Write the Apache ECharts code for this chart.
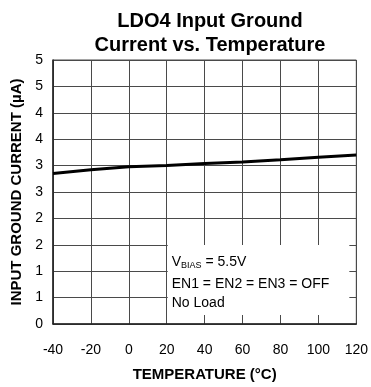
<!DOCTYPE html>
<html><head><meta charset="utf-8">
<script src="https://cdn.jsdelivr.net/npm/echarts@6/dist/echarts.min.js"></script>
<style>html,body{margin:0;padding:0;background:#fff}#c{width:371px;height:387px}</style>
</head><body><div id="c"></div>
<script>
var temps = [-40, -20, 0, 20, 40, 60, 80, 100, 120];
var current = [2.85, 2.92, 2.98, 3.0, 3.04, 3.07, 3.11, 3.16, 3.2];
var yTickLabels = ['0','1','1','2','2','3','3','4','4','5','5'];
var xTickLabels = ['-40','-20','0','20','40','60','80','100','120'];
var titleLines = ['LDO4 Input Ground', 'Current vs. Temperature'];
var noteLines = ['EN1 = EN2 = EN3 = OFF', 'No Load'];

var F = 'Arial, "Liberation Sans", Helvetica, sans-serif';
var chart = echarts.init(document.getElementById('c'), null, {renderer:'canvas'});
var gridCol = '#4a4a4a';
var axisCol = '#222';
chart.setOption({
  animation:false,
  backgroundColor:'#fff',
  title:{text:titleLines.join('\n'), left:205, top:4, textAlign:'center',
    textStyle:{fontFamily:F, fontSize:20, fontWeight:'bold', color:'#000', lineHeight:24}},
  grid:{left:53, right:14, top:60, bottom:60.5, show:true, borderColor:gridCol, borderWidth:1},
  xAxis:{type:'value', min:-40, max:120, interval:20,
    name:'TEMPERATURE (°C)', nameLocation:'middle', nameGap:43,
    nameTextStyle:{fontFamily:F, fontSize:15, fontWeight:'bold', color:'#000'},
    axisLine:{show:true, onZero:false, lineStyle:{color:axisCol, width:1.5}}, axisTick:{show:false},
    axisLabel:{fontFamily:F, fontSize:14, color:'#000', margin:19,
      formatter:function(v){var i=Math.round((v+40)/20);return xTickLabels[i];}},
    splitLine:{show:true, lineStyle:{color:gridCol, width:1}}},
  yAxis:{type:'value', min:0, max:5, interval:0.5,
    name:'INPUT GROUND CURRENT (µA)', nameLocation:'middle', nameGap:28,
    nameTextStyle:{fontFamily:F, fontSize:15, fontWeight:'bold', color:'#000'},
    axisLine:{show:true, onZero:false, lineStyle:{color:axisCol, width:1.5}}, axisTick:{show:false},
    axisLabel:{fontFamily:F, fontSize:14, color:'#000', margin:10, padding:[4,0,0,0],
      formatter:function(v){var i=Math.round(v/0.5);return yTickLabels[i];}},
    splitLine:{show:true, lineStyle:{color:gridCol, width:1}}},
  series:[{type:'line', data:temps.map(function(t,i){return [t,current[i]];}),
    showSymbol:false, lineStyle:{color:'#000', width:3}, z:5}]
});
var p1 = chart.convertToPixel({gridIndex:0},[20,0]);
var p2 = chart.convertToPixel({gridIndex:0},[120,5]);
var x0 = p1[0]+1, x1 = p2[0]-7;
var yb = p1[1]-9, yt = p1[1]-79;
chart.setOption({graphic:[
  {type:'rect', shape:{x:x0, y:yt, width:x1-x0, height:yb-yt}, style:{fill:'#fff'}, z:3},
  {type:'text', x:x0+4, y:yt+9, z:6, style:{rich:{a:{fontFamily:F,fontSize:14,fill:'#000'}, s:{fontFamily:F,fontSize:9,fill:'#000',verticalAlign:'bottom',padding:[7,0,0,0]}}, text:'{a|V}{s|BIAS}{a| = 5.5V}', fill:'#000'}},
  {type:'text', x:x0+4, y:yt+32, z:6, style:{text:noteLines[0], fontFamily:F, fontSize:14, fill:'#000'}},
  {type:'text', x:x0+4, y:yt+51, z:6, style:{text:noteLines[1], fontFamily:F, fontSize:14, fill:'#000'}}
]});
</script></body></html>
